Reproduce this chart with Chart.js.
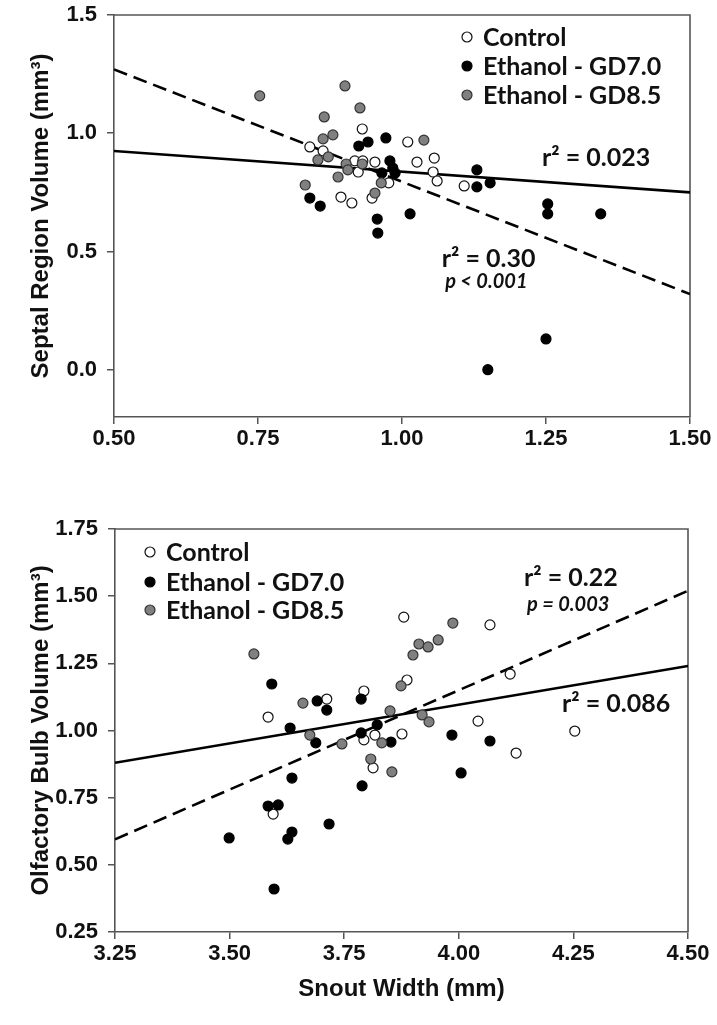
<!DOCTYPE html>
<html><head><meta charset="utf-8">
<script src="https://cdn.jsdelivr.net/npm/chart.js@4.4.1/dist/chart.umd.min.js"></script>
<style>
html,body{margin:0;padding:0;background:#fff;}
#wrap{position:relative;width:717px;height:1025px;overflow:hidden;background:#fff;}
canvas{position:absolute;left:0;}
#c1{top:-20px;}
#c2{top:480px;}
</style></head><body>
<div id="wrap"><canvas id="c1" width="717" height="490"></canvas><canvas id="c2" width="717" height="545"></canvas></div>
<script>
// ---------- DATA ----------
// Top panel: Septal Region Volume vs Snout Width ratio
const septalControl = [[0.931,1.018],[0.840,0.942],[0.863,0.925],[1.010,0.963],[1.026,0.878],[1.056,0.895],[1.054,0.836],[1.061,0.798],[1.108,0.777],[0.918,0.883],[0.932,0.883],[0.924,0.836],[0.953,0.878],[0.977,0.790],[0.948,0.726],[0.894,0.730],[0.913,0.705]];
const septalGD70 = [[0.972,0.980],[0.941,0.963],[0.925,0.946],[0.979,0.883],[0.965,0.832],[0.984,0.853],[0.988,0.832],[0.840,0.726],[0.858,0.692],[0.957,0.637],[0.958,0.578],[1.014,0.659],[1.130,0.845],[1.130,0.773],[1.153,0.790],[1.253,0.701],[1.253,0.659],[1.345,0.659],[1.250,0.130],[1.149,0.000]];
const septalGD85 = [[0.753,1.158],[0.901,1.200],[0.927,1.107],[0.865,1.069],[0.880,0.993],[0.863,0.976],[1.038,0.971],[0.903,0.870],[0.906,0.845],[0.889,0.815],[0.931,0.870],[0.964,0.790],[0.953,0.747],[0.832,0.781],[0.872,0.900],[0.854,0.887]];
const septalFitSolid = [[0.5,0.925],[1.5,0.75]];
const septalFitDashed = [[0.5,1.27],[1.5,0.32]];
const septalXTicks = [0.5,0.75,1.0,1.25,1.5];
const septalYTicks = [0.0,0.5,1.0,1.5];

// Bottom panel: Olfactory Bulb Volume vs Snout Width
const olfControl = [[3.880,1.422],[3.887,1.188],[3.584,1.050],[3.712,1.117],[3.793,1.147],[3.793,0.965],[3.817,0.983],[3.876,0.987],[3.813,0.861],[3.595,0.689],[4.068,1.393],[4.112,1.210],[4.042,1.035],[4.253,0.998],[4.125,0.916]];
const olfGD70 = [[3.592,1.173],[3.691,1.110],[3.712,1.076],[3.787,1.117],[3.822,1.021],[3.632,1.009],[3.688,0.954],[3.787,0.991],[3.852,0.957],[3.636,0.823],[3.789,0.794],[3.584,0.719],[3.606,0.723],[3.499,0.600],[3.636,0.622],[3.627,0.596],[3.717,0.652],[3.597,0.410],[3.985,0.983],[4.068,0.961],[4.005,0.842]];
const olfGD85 = [[3.553,1.285],[3.913,1.322],[3.933,1.311],[3.900,1.281],[3.874,1.166],[3.660,1.102],[3.850,1.073],[3.675,0.983],[3.832,0.954],[3.745,0.950],[3.808,0.894],[3.854,0.846],[3.920,1.058],[3.935,1.032],[3.987,1.400],[3.955,1.337]];
const olfFitSolid = [[3.25,0.88],[4.5,1.24]];
const olfFitDashed = [[3.25,0.595],[4.5,1.52]];
const olfXTicks = [3.25,3.5,3.75,4.0,4.25,4.5];
const olfYTicks = [0.25,0.5,0.75,1.0,1.25,1.5,1.75];

const groupNames = ['Control','Ethanol - GD7.0','Ethanol - GD8.5'];

// ---------- STYLE ----------
const AXIS_FONT = "'Liberation Sans', Arial, sans-serif";
const NOTE_FONT = "Lato, 'Open Sans', sans-serif";
const AXIS_COLOR = '#555';

const septalNotes = [
  {text:'r\u00B2 = 0.023', x:1.243, y:0.862, font:'bold 25px '+NOTE_FONT},
  {text:'r\u00B2 = 0.30',  x:1.069, y:0.434, font:'bold 25px '+NOTE_FONT},
  {text:'p < 0.001',       x:1.075, y:0.346, font:'italic bold 20px '+NOTE_FONT}
];
const olfNotes = [
  {text:'r\u00B2 = 0.22',  x:4.142, y:1.538, font:'bold 25px '+NOTE_FONT},
  {text:'p = 0.003',       x:4.149, y:1.445, font:'italic bold 20px '+NOTE_FONT},
  {text:'r\u00B2 = 0.086', x:4.225, y:1.069, font:'bold 25px '+NOTE_FONT}
];

const toXY = arr => arr.map(p => ({x:p[0], y:p[1]}));

function group(label, pts, fill, stroke, order) {
  return {label, data: toXY(pts), inLegend:true, order,
    backgroundColor: fill, borderColor: stroke, borderWidth: 1.2,
    pointRadius: 5, pointHoverRadius: 5, pointBorderWidth: 1.2,
    pointBackgroundColor: fill, pointBorderColor: stroke};
}
function fit(label, pts, dash, order) {
  return {label, data: toXY(pts), type:'scatter', showLine:true, order,
    borderColor:'#000', borderWidth:2.6, borderDash:dash, pointRadius:0,
    fill:false, tension:0};
}

const framePlugin = {
  id:'frame',
  beforeDatasetsDraw(chart){
    const {ctx, chartArea:a} = chart;
    ctx.save(); ctx.strokeStyle = AXIS_COLOR; ctx.lineWidth = 1.6;
    ctx.beginPath(); ctx.moveTo(a.left, a.top); ctx.lineTo(a.right, a.top); ctx.lineTo(a.right, a.bottom); ctx.stroke();
    ctx.restore();
  }
};
function makeLegend(side, dx, rows) {
  return {
    id:'groupLegend',
    afterDatasetsDraw(chart){
      const {ctx, chartArea:a} = chart;
      const x0 = side === 'right' ? a.right - dx : a.left + dx;
      ctx.save();
      chart.data.datasets.filter(d => d.inLegend).forEach((d, i) => {
        const y = a.top + rows[i];
        ctx.beginPath(); ctx.arc(x0, y, 5, 0, Math.PI*2);
        ctx.fillStyle = d.backgroundColor; ctx.fill();
        ctx.lineWidth = 1.2; ctx.strokeStyle = d.borderColor; ctx.stroke();
        ctx.font = 'bold 25px ' + NOTE_FONT; ctx.fillStyle = '#111';
        ctx.textBaseline = 'middle'; ctx.textAlign = 'left';
        ctx.fillText(d.label, x0 + 16, y + 1);
      });
      ctx.restore();
    }
  };
}
function makeNotes(items) {
  return {
    id:'notes',
    afterDatasetsDraw(chart){
      const {ctx, scales} = chart;
      ctx.save(); ctx.fillStyle = '#111'; ctx.textBaseline = 'alphabetic'; ctx.textAlign = 'left';
      items.forEach(n => { ctx.font = n.font; ctx.fillText(n.text, scales.x.getPixelForValue(n.x), scales.y.getPixelForValue(n.y)); });
      ctx.restore();
    }
  };
}

function axis(ticksArr, min, max, decimals, fitSize, horizontal, title, titlePad, tickPad) {
  return {
    type:'linear', min, max,
    afterBuildTicks: s => { s.ticks = ticksArr.map(v => ({value:v})); },
    afterFit: s => { if (horizontal) s.height = fitSize; else s.width = fitSize; },
    ticks:{ callback: v => Number(v).toFixed(decimals), color:'#111', padding: tickPad,
      font:{family:AXIS_FONT, size:22, weight:'bold'} },
    grid:{ display:true, drawOnChartArea:false, drawTicks:true, tickLength:7, tickColor:AXIS_COLOR, lineWidth:1.5 },
    border:{ display:true, color:AXIS_COLOR, width:1.6 },
    title: title ? { display:true, text:title, color:'#111', font:{family:AXIS_FONT, size:24, weight:'bold'}, padding:titlePad } : {display:false}
  };
}

function build(id, d) {
  return new Chart(document.getElementById(id), {
    type:'scatter',
    data:{ datasets:[
      group(groupNames[0], d.control, '#ffffff', '#111111', 3),
      group(groupNames[1], d.gd70, '#000000', '#000000', 2),
      group(groupNames[2], d.gd85, '#808080', '#333333', 1),
      fit('Linear fit (solid)', d.fitSolid, [], 5),
      fit('Linear fit (dashed)', d.fitDashed, [14,7], 6)
    ]},
    options:{
      responsive:false, animation:false, events:[],
      layout:{ padding: d.padding },
      plugins:{ legend:{display:false}, tooltip:{enabled:false} },
      scales:{ x: d.x, y: d.y }
    },
    plugins:[framePlugin, makeLegend(d.legendSide, d.legendDx, d.legendRows), makeNotes(d.notes)]
  });
}

build('c1', {
  control: septalControl, gd70: septalGD70, gd85: septalGD85,
  fitSolid: septalFitSolid, fitDashed: septalFitDashed,
  padding:{left:0, right:27, top:35, bottom:0},
  x: axis(septalXTicks, 0.5, 1.5, 2, 53, true, null, null, 2),
  y: axis(septalYTicks, -0.2, 1.5, 1, 114, false, 'Septal Region Volume (mm\u00B3)', {top:27, bottom:0}, 10),
  legendSide:'right', legendDx:223, legendRows:[22, 51, 80],
  notes: septalNotes
});

build('c2', {
  control: olfControl, gd70: olfGD70, gd85: olfGD85,
  fitSolid: olfFitSolid, fitDashed: olfFitDashed,
  padding:{left:0, right:29, top:49, bottom:0},
  x: axis(olfXTicks, 3.25, 4.5, 2, 93, true, 'Snout Width (mm)', {top:0, bottom:21}, 2),
  y: axis(olfYTicks, 0.25, 1.75, 2, 115, false, 'Olfactory Bulb Volume (mm\u00B3)', {top:27, bottom:0}, 10),
  legendSide:'left', legendDx:35, legendRows:[23, 53, 81],
  notes: olfNotes
});
</script>
</body></html>
